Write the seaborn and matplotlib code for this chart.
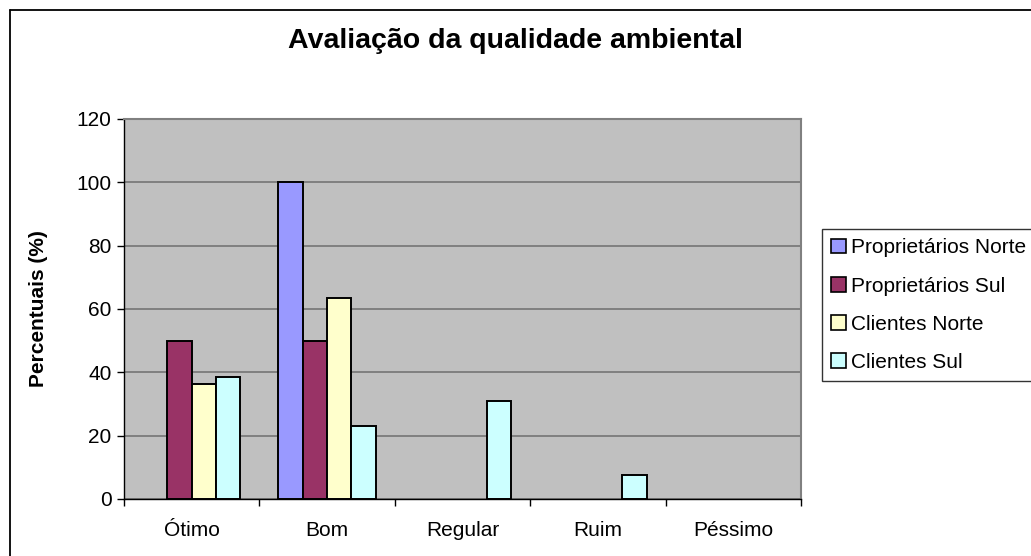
import pandas as pd
import matplotlib.pyplot as plt
import seaborn as sns
from matplotlib.patches import Patch
from matplotlib.lines import Line2D

# Data
categorias = ["Ótimo", "Bom", "Regular", "Ruim", "Péssimo"]
series = ["Proprietários Norte", "Proprietários Sul", "Clientes Norte", "Clientes Sul"]
prop_norte = [0, 100, 0, 0, 0]
prop_sul = [50, 50, 0, 0, 0]
cli_norte = [36.4, 63.6, 0, 0, 0]
cli_sul = [38.5, 23.1, 30.8, 7.7, 0]
cores = ["#9999FF", "#993366", "#FFFFCC", "#CCFFFF"]

# Long format table for seaborn
valores = [prop_norte, prop_sul, cli_norte, cli_sul]
rows = []
for nome, vals in zip(series, valores):
    for cat, v in zip(categorias, vals):
        rows.append({"Categoria": cat, "Serie": nome, "Valor": v})
df = pd.DataFrame(rows)

sns.set_style("white")
plt.rcParams['font.family'] = ['Liberation Sans', 'DejaVu Sans']
for k in ["text.color", "axes.labelcolor", "xtick.color", "ytick.color"]:
    plt.rcParams[k] = "black"

W, H = 1031, 556
fig = plt.figure(figsize=(W / 100, H / 100), dpi=100)
left, right, top, bottom = 124, 801, 119, 499
ax = fig.add_axes([left / W, 1 - bottom / H, (right - left) / W, (bottom - top) / H])
ax.set_facecolor("#C0C0C0")

sns.barplot(
    data=df, x="Categoria", y="Valor", hue="Serie",
    order=categorias, hue_order=series, palette=cores,
    width=0.72, edgecolor="black", linewidth=1.4,
    saturation=1, legend=False, ax=ax
)

# empty bars should not leave an outline on the axis
for p in ax.patches:
    if p.get_height() == 0:
        p.set_linewidth(0)

ax.set_ylim(0, 120)
ax.set_xlim(-0.5, 4.5)
ax.set_yticks(range(0, 121, 20))
ax.yaxis.grid(True, color="#6E6E6E", linewidth=1.1)
ax.set_axisbelow(True)

# frame: black axes on left/bottom, gray border elsewhere
for s in ["top", "right"]:
    ax.spines[s].set_color("#808080")
    ax.spines[s].set_linewidth(1.5)
for s in ["left", "bottom"]:
    ax.spines[s].set_color("black")
    ax.spines[s].set_linewidth(1.0)

ax.tick_params(axis="y", which="major", length=5, width=1, pad=4,
               labelsize=15, left=True, direction="out")
ax.set_xticks([i - 0.5 for i in range(6)], minor=True)
ax.tick_params(axis="x", which="minor", length=5, width=1, bottom=True, direction="out")
ax.tick_params(axis="x", which="major", length=0, pad=16, labelsize=15)

ax.set_xlabel("")
ax.set_ylabel("Percentuais (%)", fontsize=15, fontweight="bold")
ax.yaxis.set_label_coords((48 - left) / (right - left), 0.5)

fig.text(0.5, 1 - 41 / H, "Avaliação da qualidade ambiental",
         ha="center", va="center", fontsize=20.5, fontweight="bold")

# legend on the right, partly cut off by the figure edge
handles = [Patch(facecolor=c, edgecolor="black", linewidth=1.2) for c in cores]
leg = fig.legend(handles, series, loc="upper left",
                 bbox_to_anchor=(822 / W, 1 - 229 / H), borderaxespad=0,
                 fontsize=15, frameon=True, fancybox=False,
                 handlelength=0.7, handleheight=0.7, handletextpad=0.25,
                 labelspacing=0.92, borderpad=0.45)
leg.get_frame().set_edgecolor("black")
leg.get_frame().set_linewidth(1.0)

# outer chart border
fig.add_artist(Line2D([10 / W, 10 / W], [0, 1 - 10 / H], color="black", linewidth=1.3))
fig.add_artist(Line2D([10 / W, 1], [1 - 10 / H, 1 - 10 / H], color="black", linewidth=1.3))

fig.savefig("out.png", dpi=100)
